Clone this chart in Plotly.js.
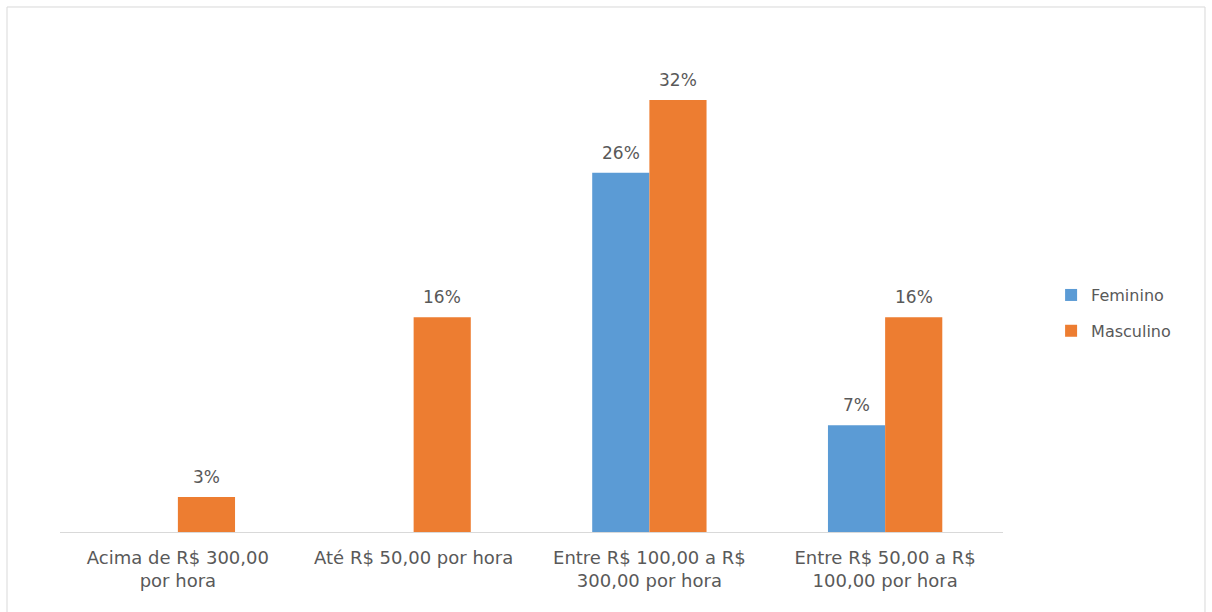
<!DOCTYPE html>
<html>
<head>
<meta charset="utf-8">
<script src="https://cdn.plot.ly/plotly-3.0.1.min.js"></script>
<style>html,body{margin:0;padding:0;background:#fff;}#chart{width:1212px;height:612px;}</style>
</head>
<body>
<div id="chart"></div>
<script>
const categories = [
  "Acima de R$ 300,00<br>por hora",
  "Até R$ 50,00 por hora",
  "Entre R$ 100,00 a R$<br>300,00 por hora",
  "Entre R$ 50,00 a R$<br>100,00 por hora"
];
const femininoValues = [null, null, 26.6, 7.9];
const femininoLabels = ["", "", "26%", "7%"];
const masculinoValues = [2.6, 15.9, 32, 15.9];
const masculinoLabels = ["3%", "16%", "32%", "16%"];

const fontFamily = "DejaVu Sans, sans-serif";
const gray = "#595959";

const traces = [
  {
    type: "bar", name: "Feminino", x: categories, y: femininoValues,
    marker: {color: "#5B9BD5"}, legendgroup: "f", hoverinfo: "skip"
  },
  {
    type: "bar", name: "Masculino", x: categories, y: masculinoValues,
    marker: {color: "#ED7D31"}, legendgroup: "m", hoverinfo: "skip"
  }
];

// data labels placed above each bar, built from the arrays above
const barHalfPx = 28.5;
const annotations = [];
[[femininoValues, femininoLabels, -1], [masculinoValues, masculinoLabels, 1]].forEach(([vals, labs, side]) => {
  vals.forEach((v, j) => {
    if (v === null || !labs[j]) return;
    annotations.push({
      x: categories[j], y: v, xref: "x", yref: "y",
      text: labs[j], showarrow: false,
      xanchor: "center", yanchor: "bottom",
      xshift: side * barHalfPx, yshift: 8,
      font: {family: fontFamily, size: 17, color: gray}
    });
  });
});

const layout = {
  width: 1212, height: 612,
  margin: {l: 60, r: 209, t: 40, b: 80},
  paper_bgcolor: "#ffffff", plot_bgcolor: "#ffffff",
  barmode: "group", bargap: 0.515, bargroupgap: 0,
  showlegend: true,
  legend: {
    x: 1.051, y: 0.445, xanchor: "left", yanchor: "middle",
    font: {family: fontFamily, size: 16, color: gray},
    itemwidth: 30, traceorder: "grouped", tracegroupgap: 12
  },
  xaxis: {
    showline: true, linecolor: "#d9d9d9", linewidth: 1,
    ticks: "", ticklabelstandoff: 9,
    tickfont: {family: fontFamily, size: 18, color: gray},
    showgrid: false, zeroline: false
  },
  yaxis: {
    range: [0, 36.44], visible: false, showgrid: false, zeroline: false
  },
  annotations: annotations,
  shapes: [{
    type: "rect", xref: "paper", yref: "paper",
    x0: -0.0562, x1: 1.2142, y0: -0.2, y1: 1.0671,
    line: {color: "#d9d9d9", width: 1}, fillcolor: "rgba(0,0,0,0)", layer: "below"
  }]
};

Plotly.newPlot("chart", traces, layout, {displayModeBar: false, staticPlot: true});
</script>
</body>
</html>
